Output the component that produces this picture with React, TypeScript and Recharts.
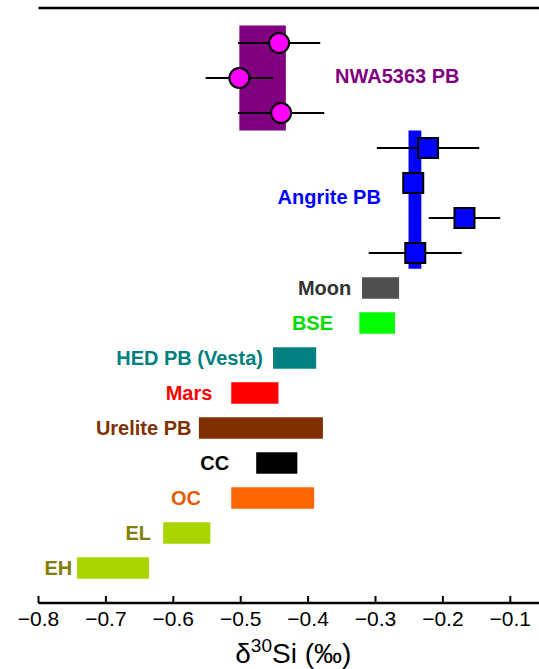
import React from 'react';
import {
  ComposedChart,
  XAxis,
  YAxis,
  Scatter,
  ErrorBar,
  ReferenceArea,
  ReferenceLine,
} from 'recharts';

// ---- data (δ30Si, ‰) ----
const xTicks = [-0.8, -0.7, -0.6, -0.5, -0.4, -0.3, -0.2, -0.1];

// NWA5363 parent body: individual measurements (value, 2SD) and range box
const nwaValues = [-0.443, -0.502, -0.44];
const nwaErrors = [0.061, 0.05, 0.064];
const nwaRows = [0, 1, 2];
const nwaRange = [-0.502, -0.433];
const nwaLabel = { text: 'NWA5363 PB', x: -0.36, row: 0.95 };

// Angrite parent body
const angriteValues = [-0.222, -0.244, -0.168, -0.241];
const angriteErrors = [0.076, 0, 0.053, 0.069];
const angriteRows = [3, 4, 5, 6];
const angriteRange = [-0.251, -0.232];
const angriteLabel = { text: 'Angrite PB', x: -0.292, row: 4.4 };

// Other bodies: ranges
const bodies = ['Moon', 'BSE', 'HED PB (Vesta)', 'Mars', 'Urelite PB', 'CC', 'OC', 'EL', 'EH'];
const bodyLow = [-0.32, -0.324, -0.452, -0.514, -0.562, -0.477, -0.514, -0.615, -0.743];
const bodyHigh = [-0.265, -0.271, -0.388, -0.444, -0.378, -0.416, -0.391, -0.545, -0.636];
const bodyRows = [7, 8, 9, 10, 11, 12, 13, 14, 15];
const bodyLabelX = [-0.336, -0.363, -0.467, -0.542, -0.573, -0.517, -0.559, -0.633, -0.75];

// ---- styles ----
const bodyFill = ['#505050', '#00ff00', '#008080', '#ff0000', '#803000', '#000000', '#ff6600', '#aad400', '#aad400'];
const bodyText = ['#333333', '#00dd00', '#008080', '#ff0000', '#803000', '#000000', '#e65c00', '#808000', '#808000'];
const FONT = '"Liberation Sans", Arial, Helvetica, sans-serif';

const nwaPoints = nwaValues.map((x, i) => ({ x, y: nwaRows[i], err: nwaErrors[i] }));
const angritePoints = angriteValues.map((x, i) => ({ x, y: angriteRows[i], err: angriteErrors[i] }));
const bodyLabelPoints = bodies.map((t, i) => ({ x: bodyLabelX[i], y: bodyRows[i], text: t, color: bodyText[i] }));

const fmt = (v: number) => v.toFixed(1).replace('-', '\u2212');

const Circle = (p: any) => (
  <circle cx={p.cx} cy={p.cy} r={10} fill="#ff00ff" stroke="#000" strokeWidth={2} />
);
const Square = (p: any) => (
  <rect x={p.cx - 10} y={p.cy - 10} width={20} height={20} fill="#0000ff" stroke="#000" strokeWidth={2} />
);
const makeText = (anchor: 'start' | 'end', color?: string) => (p: any) => (
  <text
    x={p.cx}
    y={p.cy}
    textAnchor={anchor}
    dominantBaseline="central"
    fontFamily={FONT}
    fontWeight="bold"
    fontSize={20}
    fill={color || p.payload.color}
  >
    {p.payload.text}
  </text>
);

const AxisTitle = (props: any) => {
  const vb = props.viewBox || { x: 38.5, y: 603, width: 505.5, height: 60 };
  const cx = vb.x + vb.width / 2;
  return (
    <text x={cx + 2} y={vb.y + 60} textAnchor="middle" fontFamily={FONT} fontSize={28} fill="#000">
      <tspan>δ</tspan>
      <tspan dy={-11} fontSize={19}>30</tspan>
      <tspan dy={11}>Si (‰)</tspan>
    </text>
  );
};

export default function App() {
  return (
    <div
      style={{
        position: 'absolute',
        left: 0,
        top: 0,
        width: 539,
        height: 669,
        overflow: 'hidden',
        background: '#fff',
      }}
    >
      <ComposedChart
        width={546}
        height={669}
        margin={{ top: 8, right: 2, bottom: 6, left: 38.5 }}
      >
        <XAxis
          type="number"
          dataKey="x"
          domain={[-0.8, -0.05]}
          ticks={xTicks}
          allowDataOverflow
          tickFormatter={fmt}
          tickLine={false}
          tickSize={0}
          tickMargin={8}
          height={60}
          axisLine={{ stroke: '#000', strokeWidth: 2.5 }}
          tick={{ fill: '#000', fontSize: 21, fontFamily: FONT }}
          label={AxisTitle}
        />
        <YAxis
          type="number"
          dataKey="y"
          domain={[-1, 16]}
          reversed
          allowDataOverflow
          width={0}
          tick={false}
          tickLine={false}
          axisLine={{ stroke: '#000', strokeWidth: 2.5 }}
        />
        <ReferenceLine y={-1} stroke="#000" strokeWidth={2.5} ifOverflow="visible" />
        {xTicks.map((t) => (
          <ReferenceLine
            key={t}
            segment={[{ x: t, y: 16 }, { x: t, y: 15.8 }]}
            stroke="#000"
            strokeWidth={2}
            ifOverflow="visible"
          />
        ))}
        <ReferenceArea
          x1={nwaRange[0]}
          x2={nwaRange[1]}
          y1={-0.5}
          y2={2.5}
          fill="#800080"
          fillOpacity={1}
          stroke="none"
        />
        <ReferenceArea
          x1={angriteRange[0]}
          x2={angriteRange[1]}
          y1={2.5}
          y2={6.45}
          fill="#0000ff"
          fillOpacity={1}
          stroke="none"
        />
        {bodies.map((b, i) => (
          <ReferenceArea
            key={b}
            x1={bodyLow[i]}
            x2={bodyHigh[i]}
            y1={bodyRows[i] - 0.31}
            y2={bodyRows[i] + 0.31}
            fill={bodyFill[i]}
            fillOpacity={1}
            stroke="none"
          />
        ))}
        <Scatter data={nwaPoints} shape={Circle} isAnimationActive={false}>
          <ErrorBar dataKey="err" direction="x" width={0} stroke="#000" strokeWidth={2} isAnimationActive={false} />
        </Scatter>
        <Scatter data={angritePoints} shape={Square} isAnimationActive={false}>
          <ErrorBar dataKey="err" direction="x" width={0} stroke="#000" strokeWidth={2} isAnimationActive={false} />
        </Scatter>
        <Scatter
          data={[{ x: nwaLabel.x, y: nwaLabel.row, text: nwaLabel.text }]}
          shape={makeText('start', '#800080')}
          isAnimationActive={false}
        />
        <Scatter
          data={[{ x: angriteLabel.x, y: angriteLabel.row, text: angriteLabel.text }]}
          shape={makeText('end', '#0000ff')}
          isAnimationActive={false}
        />
        <Scatter data={bodyLabelPoints} shape={makeText('end')} isAnimationActive={false} />
      </ComposedChart>
    </div>
  );
}
